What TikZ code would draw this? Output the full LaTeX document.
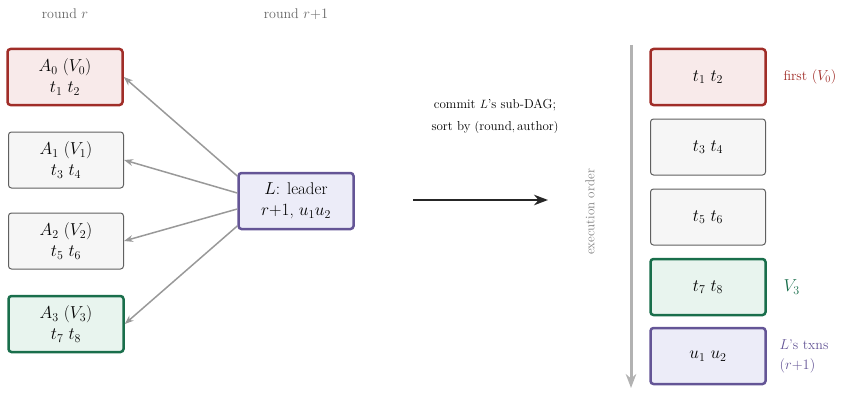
\documentclass[tikz,border=0pt]{standalone}
\usepackage{amsmath}
\usetikzlibrary{arrows.meta,calc}
\definecolor{redE}{RGB}{160,45,40}
\definecolor{redF}{RGB}{248,234,234}
\definecolor{grnE}{RGB}{25,110,75}
\definecolor{grnF}{RGB}{232,244,238}
\definecolor{purE}{RGB}{100,85,150}
\definecolor{purF}{RGB}{236,236,248}
\tikzset{
  blk/.style={draw=gray!75!black, fill=gray!7, rounded corners=3pt, line width=1pt,
    minimum width=115pt, minimum height=56pt, align=center,
    font=\fontsize{17}{21}\selectfont},
  blkR/.style={blk, draw=redE, fill=redF, line width=2.5pt},
  blkG/.style={blk, draw=grnE, fill=grnF, line width=2.5pt},
  blkP/.style={blk, draw=purE, fill=purF, line width=2.5pt},
  ref/.style={draw=gray!80, line width=1.5pt, -{Stealth[length=9pt]}}
}
\begin{document}
\begin{tikzpicture}[x=1pt,y=-1pt]
    \useasboundingbox (0,0) rectangle (851,420);
    %%Headers
    \node[text=gray!80!black, font=\fontsize{14}{16}\selectfont] (hA) at (65,14) {round $r$};
    \node[text=gray!80!black, font=\fontsize{14}{16}\selectfont] (hL) at (296,14) {round $r{+}1$};
    %%Round r
    \node[blkR] (A0) at (65,77) {$A_0$ $(V_0)$\\ $t_1\ t_2$};
    \node[blk] (A1) at (66,160) {$A_1$ $(V_1)$\\ $t_3\ t_4$};
    \node[blk] (A2) at (66,241) {$A_2$ $(V_2)$\\ $t_5\ t_6$};
    \node[blkG] (A3) at (66,324) {$A_3$ $(V_3)$\\ $t_7\ t_8$};
    %%Leader
    \node[blkP] (L) at (296,201) {$L$: leader\\ $r{+}1$, $u_1 u_2$};
    \foreach \a/\d in {A0/-25,A1/-8,A2/8,A3/25}
        \draw[ref] ($(L.west)+(0,\d)$) -- (\a.east);
    %%Commit
    \node[font=\fontsize{13}{22}\selectfont, align=center] (cm) at (495,116) {commit $L$'s sub-DAG;\\ sort by $(\text{round}, \text{author})$};
    \coordinate (c0) at (413,200);
    \coordinate (c1) at (548,200);
    \draw[draw=gray!30!black, line width=2.5pt, -{Stealth[length=14pt]}] (c0) -- (c1);
    %%Execution order
    \coordinate (e0) at (631,45);
    \coordinate (e1) at (631,388);
    \draw[draw=gray!60, line width=3pt, -{Stealth[length=14pt]}] (e0) -- (e1);
    \node[rotate=90, text=gray, font=\fontsize{13}{15}\selectfont] (eo) at (590,212) {execution order};
    \node[blkR] (B0) at (708,77) {$t_1\ t_2$};
    \node[blk] (B1) at (708,147) {$t_3\ t_4$};
    \node[blk] (B2) at (708,217) {$t_5\ t_6$};
    \node[blkG] (B3) at (708,287) {$t_7\ t_8$};
    \node[blkP] (B4) at (708,356) {$u_1\ u_2$};
    %%Notes
    \node[text=redE, anchor=west, font=\fontsize{14}{16}\selectfont] (n0) at (780,77) {first $(V_0)$};
    \node[text=grnE, anchor=west, font=\fontsize{17}{20}\selectfont] (n3) at (780,287) {$V_3$};
    \node[text=purE, anchor=west, align=left, font=\fontsize{14}{20}\selectfont] (n4) at (776,356) {$L$'s txns\\ $(r{+}1)$};
\end{tikzpicture}
\end{document}
